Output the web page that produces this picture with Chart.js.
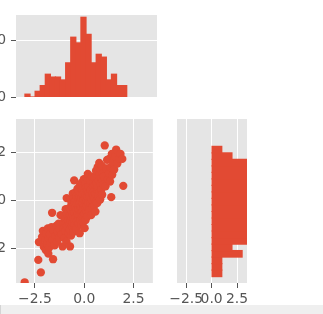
<!DOCTYPE html>
<html>
<head>
<meta charset="utf-8">
<script src="https://cdn.jsdelivr.net/npm/chart.js@4.4.1/dist/chart.umd.min.js"></script>
<style>
html, body { margin: 0; padding: 0; background: #fff; width: 323px; height: 314px; overflow: hidden; }
canvas { position: absolute; }
#bar { position: absolute; left: 0; top: 305px; width: 322px; height: 9px; background: #efefef; border-left: 1px solid #d4d4d4; z-index: 5; }
</style>
</head>
<body>
<canvas id="topHist" width="181" height="110" style="left:-24px;top:1px"></canvas>
<canvas id="scatter" width="181" height="208" style="left:-24px;top:105px"></canvas>
<canvas id="rightHist" width="94" height="194" style="left:161px;top:119px"></canvas>
<div id="bar"></div>
<script>
// x histogram (top), 20 bins
const topHistStart = -3.02;
const topHistWidth = 0.2505;
const topHistCounts = [1, 0, 2, 4, 8, 7, 7, 6, 12, 21, 19, 28, 22, 12, 15, 14, 6, 8, 4, 4];

// y histogram (right), 20 bins, bottom to top
const rightHistStart = -3.154;
const rightHistWidth = 0.2708;
const rightHistCounts = [1, 1, 1, 3, 2, 8, 10, 13, 15, 18, 21, 24, 20, 18, 14, 12, 9, 7, 2, 1];

// scatter points
const scatterX = [
  -3.02,
  -2.33, -2.30,
  -2.20, -2.14, -2.10, -2.05,
  -1.98, -1.95, -1.92, -1.88, -1.85, -1.82, -1.80, -1.78,
  -1.74, -1.70, -1.66, -1.63, -1.60, -1.58, -1.55,
  -1.50, -1.46, -1.42, -1.38, -1.34, -1.30, -1.28,
  -1.24, -1.20, -1.15, -1.10, -1.06, -1.04,
  -1.00, -0.98, -0.96, -0.94, -0.92, -0.90, -0.88, -0.89, -0.86, -0.82, -0.80, -0.78,
  -0.76, -0.75, -0.74, -0.72, -0.71, -0.70, -0.68, -0.67, -0.66, -0.64, -0.63, -0.62, -0.60, -0.59, -0.58, -0.57, -0.56, -0.55, -0.54, -0.53, -0.52,
  -0.51, -0.50, -0.49, -0.48, -0.46, -0.45, -0.44, -0.42, -0.41, -0.40, -0.38, -0.37, -0.36, -0.34, -0.33, -0.31, -0.30, -0.29, -0.28,
  -0.27, -0.26, -0.25, -0.24, -0.23, -0.22, -0.21, -0.20, -0.19, -0.18, -0.17, -0.16, -0.15, -0.14, -0.13, -0.12, -0.11, -0.10, -0.09, -0.08, -0.07, -0.06, -0.05, -0.05, -0.04, -0.03, -0.03, -0.02,
  0.00, 0.01, 0.02, 0.03, 0.04, 0.05, 0.06, 0.07, 0.08, 0.09, 0.10, 0.11, 0.12, 0.13, 0.14, 0.15, 0.16, 0.17, 0.18, 0.20, 0.21, 0.22,
  0.25, 0.27, 0.29, 0.31, 0.33, 0.35, 0.37, 0.39, 0.41, 0.43, 0.45, 0.47,
  0.49, 0.51, 0.52, 0.54, 0.55, 0.57, 0.58, 0.60, 0.61, 0.63, 0.65, 0.66, 0.68, 0.70, 0.72,
  0.74, 0.76, 0.77, 0.79, 0.81, 0.82, 0.84, 0.86, 0.87, 0.89, 0.91, 0.93, 0.95, 0.97,
  1.00, 1.04, 1.08, 1.12, 1.16, 1.20,
  1.25, 1.28, 1.31, 1.34, 1.37, 1.40, 1.42, 1.46,
  1.52, 1.58, 1.62, 1.68,
  1.78, 1.84, 1.93, 1.98
];
const scatterY = [
  -3.39,
  -2.46, -1.72,
  -2.98, -1.50, -1.25, -1.92,
  -1.62, -2.05, -1.35, -1.80, -1.15, -2.20, -1.55, -1.95,
  -1.40, -1.75, -1.10, -0.50, -1.62, -2.43, -1.25,
  -1.85, -1.45, -1.05, -1.70, -1.30, -0.95, -1.55,
  -1.20, -0.60, -1.40, -1.90, -0.90, -1.15,
  -1.55, -0.75, -1.25, -0.35, -0.95, -1.70, -0.55, 0.11, -1.05, -0.80, -1.35, -0.45,
  -0.95, -0.30, -1.20, -1.90, -0.60, 0.05, -0.85, -1.45, -0.40, -0.10, -0.70, -1.05, -0.25, -0.55, 0.30, -0.90, -1.30, -0.45, 0.10, -0.75, -0.15,
  0.85, -0.50, -0.05, -1.00, -0.30, 0.35, -0.70, 0.00, -1.20, -0.40, 0.20, -0.85, -0.15, 0.50, -0.55, -0.25, 0.10, -0.95, -0.35,
  0.40, -0.60, -0.10, 0.15, -1.35, -0.40, 0.65, -0.80, 0.00, -0.25, 0.30, -1.00, -0.50, 0.10, 0.75, -0.30, -0.70, 0.45, -0.05, -0.45, 0.25, -0.90, -0.15, 0.55, -0.60, 0.05, -0.35, 0.90,
  -0.20, 0.35, -1.14, -0.55, 0.10, 0.70, -0.35, -0.80, 0.25, -0.05, 0.55, -0.45, 0.95, 0.00, -0.25, 0.40, -0.65, 0.15, 1.12, -0.10, 0.60, 0.30,
  -0.40, 0.20, 0.85, -0.10, 0.45, -0.60, 0.05, 1.00, 0.30, -0.25, 0.60, 0.15,
  0.40, -0.20, 0.95, 0.10, 0.65, -0.45, 0.30, 1.25, 0.00, 0.75, 0.45, -0.10, 1.40, 0.55, 0.20,
  0.85, 1.57, 0.35, 1.10, 0.05, 0.70, 1.30, 0.45, 0.95, 1.45, 0.25, 0.80, 1.15, 0.67,
  1.00, 2.30, 0.60, 1.35, 1.70, 0.90,
  1.15, 1.75, 0.80, 1.40, 0.15, 1.95, 1.08, 1.60,
  1.30, 1.85, 2.13, 1.55,
  1.75, 1.95, 1.74, 0.62
];

// tick positions
const scatterXTicks = [-2.5, 0, 2.5];
const scatterYTicks = [-2, 0, 2];
const topHistYTicks = [0, 20];
const rightHistXTicks = [-2.5, 0, 2.5];

const RED = '#E24A33';
const FONT = { family: 'DejaVu Sans', size: 13.9 };

function fmt(v, digits) {
  return (v < 0 ? '\u2212' : '') + Math.abs(v).toFixed(digits);
}

const panelBg = {
  id: 'panelBg',
  beforeDraw(chart) {
    const { ctx, chartArea: a } = chart;
    ctx.save();
    ctx.fillStyle = '#E5E5E5';
    ctx.fillRect(a.left, a.top, a.right - a.left, a.bottom - a.top);
    ctx.restore();
  }
};

function shownAxis(min, max, ticks, digits, size, isX) {
  return {
    type: 'linear',
    min: min,
    max: max,
    offset: false,
    afterBuildTicks: s => { s.ticks = ticks.map(v => ({ value: v })); },
    afterFit: s => { if (isX) s.height = size; else s.width = size; },
    grid: { color: '#ffffff', lineWidth: 1, tickColor: '#555555', tickLength: 5, tickWidth: 1 },
    border: { display: false },
    ticks: {
      color: '#555555',
      font: FONT,
      padding: isX ? 3.5 : 5,
      autoSkip: false,
      maxRotation: 0,
      minRotation: 0,
      callback: v => fmt(v, digits)
    }
  };
}

const baseOptions = {
  responsive: false,
  animation: false,
  events: [],
  plugins: { legend: { display: false }, tooltip: { enabled: false } }
};

new Chart(document.getElementById('topHist'), {
  type: 'bar',
  data: {
    datasets: [{
      data: topHistCounts.map((c, i) => ({ x: topHistStart + topHistWidth * (i + 0.5), y: c })),
      backgroundColor: RED,
      borderWidth: 0,
      barPercentage: 1,
      categoryPercentage: 1,
      inflateAmount: 0.6,
      clip: 0
    }]
  },
  options: {
    ...baseOptions,
    layout: { padding: { top: 14, bottom: 14, left: 0, right: 0 } },
    scales: {
      x: { type: 'linear', min: -3.46, max: 3.48, offset: false, display: false },
      y: shownAxis(0, 28.8, topHistYTicks, 0, 40, false)
    }
  },
  plugins: [panelBg]
});

new Chart(document.getElementById('scatter'), {
  type: 'scatter',
  data: {
    datasets: [{
      data: scatterX.map((x, i) => ({ x: x, y: scatterY[i] })),
      backgroundColor: RED,
      borderWidth: 0,
      pointRadius: 4.15,
      clip: 0
    }]
  },
  options: {
    ...baseOptions,
    layout: { padding: { top: 14, bottom: 0, left: 0, right: 0 } },
    scales: {
      x: shownAxis(-3.46, 3.48, scatterXTicks, 1, 30, true),
      y: shownAxis(-3.42, 3.40, scatterYTicks, 0, 40, false)
    }
  },
  plugins: [panelBg]
});

new Chart(document.getElementById('rightHist'), {
  type: 'bar',
  data: {
    datasets: [{
      data: rightHistCounts.map((c, i) => ({ x: c, y: rightHistStart + rightHistWidth * (i + 0.5) })),
      backgroundColor: RED,
      borderWidth: 0,
      barPercentage: 1,
      categoryPercentage: 1,
      inflateAmount: 0.6,
      clip: 0
    }]
  },
  options: {
    ...baseOptions,
    indexAxis: 'y',
    layout: { padding: { top: 0, bottom: 0, left: 16, right: 8 } },
    scales: {
      x: shownAxis(-3.40, 3.48, rightHistXTicks, 1, 30, true),
      y: { type: 'linear', min: -3.42, max: 3.40, offset: false, display: false }
    }
  },
  plugins: [panelBg]
});
</script>
</body>
</html>
